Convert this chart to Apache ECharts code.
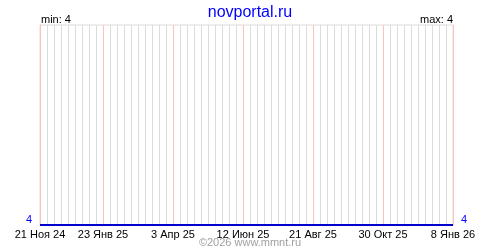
<!DOCTYPE html>
<html><head><meta charset="utf-8">
<script src="https://cdn.jsdelivr.net/npm/echarts@6/dist/echarts.min.js"></script>
<style>html,body{margin:0;padding:0;background:#fff}#c{width:500px;height:250px}</style>
</head><body><div id="c"></div>
<script>
// Data
const tickDates = ['2024-11-21','2025-01-23','2025-04-03','2025-06-12','2025-08-21','2025-10-30','2026-01-08'];
const tickLabels = ['21 Ноя 24','23 Янв 25','3 Апр 25','12 Июн 25','21 Авг 25','30 Окт 25','8 Янв 26'];
const seriesDates = ['2024-11-21','2026-01-08'];
const seriesValues = [4, 4];
const minValue = 4, maxValue = 4;
const titleText = 'novportal.ru';
const footerText = '©2026 www.mmnt.ru';

const DAY = 86400000;
const toMs = s => { const [y,m,d] = s.split('-').map(Number); return Date.UTC(y, m-1, d); };
const t0 = toMs(tickDates[0]);
const dayOf = s => Math.round((toMs(s) - t0) / DAY);
const tickDays = tickDates.map(dayOf);
const xMax = tickDays[tickDays.length-1];
const labelMap = {};
tickDays.forEach((d,i)=>labelMap[d]=tickLabels[i]);
const dayCats = [];
for (let i=0;i<=xMax;i++) dayCats.push(String(i));
const isPink = i => labelMap[i] !== undefined;

const font = 'Liberation Sans, Arial, sans-serif';
const hiddenCat = (intervalFn, color) => ({type:'category', data:dayCats, boundaryGap:false, position:'bottom',
  axisLine:{show:false}, axisTick:{show:false}, axisLabel:{show:false},
  splitLine:{show:true, interval:intervalFn, lineStyle:{color:color, width:1}}});

const chart = echarts.init(document.getElementById('c'), null, {renderer:'canvas'});
chart.setOption({
  animation:false,
  backgroundColor:'#fff',
  title:{text:titleText, left:'center', top:0, textStyle:{color:'#0000ff', fontFamily:font, fontSize:16, fontWeight:'normal'}},
  graphic:[
    {type:'text', left:41, top:14, style:{text:'min: '+minValue, font:'11px '+font, fill:'#000'}},
    {type:'text', right:47, top:14, style:{text:'max: '+maxValue, font:'11px '+font, fill:'#000'}},
    {type:'text', left:'center', top:237, style:{text:footerText, font:'11px '+font, fill:'#a0a0a0'}}
  ],
  grid:{left:40, right:47, top:25, bottom:25, show:true, borderColor:'#dcdcdc', borderWidth:1},
  xAxis:[
    {type:'value', min:0, max:xMax, interval:7,
      axisLine:{show:false}, axisTick:{show:false},
      axisLabel:{show:true, margin:4, color:'#000', fontFamily:font, fontSize:11,
        formatter:v=>labelMap[v]!==undefined?labelMap[v]:''},
      splitLine:{show:false}},
    hiddenCat((i)=> i%7===0 && !isPink(i), '#dcdcdc'),
    hiddenCat((i)=> isPink(i), '#ffc0c0')
  ],
  yAxis:[
    {type:'value', min:4, max:5, interval:1, position:'left',
      axisLine:{show:true, lineStyle:{color:'#ffc0c0'}}, axisTick:{show:false}, splitLine:{show:false},
      axisLabel:{color:'#0000ff', fontFamily:font, fontSize:11, margin:8, verticalAlign:'bottom',
        formatter:v=>v===minValue?String(v):''}},
    {type:'value', min:4, max:5, interval:1, position:'right',
      axisLine:{show:false}, axisTick:{show:false}, splitLine:{show:false},
      axisLabel:{color:'#0000ff', fontFamily:font, fontSize:11, margin:8, verticalAlign:'bottom',
        formatter:v=>v===maxValue?String(v):''}}
  ],
  series:[
    {type:'line', xAxisIndex:0, data:seriesDates.map((d,i)=>[dayOf(d), seriesValues[i]]), showSymbol:false,
      lineStyle:{color:'#0000cc', width:2}, z:5}
  ]
});
</script></body></html>
